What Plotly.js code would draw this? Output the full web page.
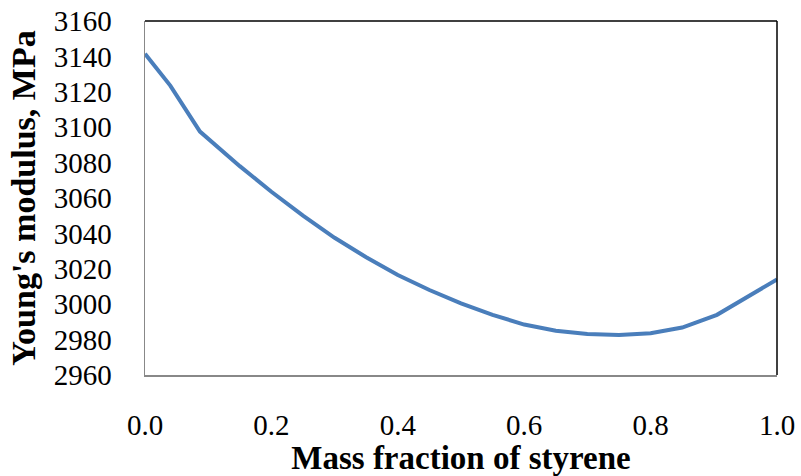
<!DOCTYPE html>
<html>
<head>
<meta charset="utf-8">
<script src="https://cdn.plot.ly/plotly-3.0.1.min.js"></script>
<style>html,body{margin:0;padding:0;background:#fff;}#chart{width:801px;height:476px;}</style>
</head>
<body>
<div id="chart"></div>
<script>
// Mass fraction of styrene (x) and Young's modulus in MPa (y)
const massFraction = [0, 0.04, 0.087, 0.15, 0.2, 0.25, 0.3, 0.35, 0.4, 0.45, 0.5, 0.55, 0.6, 0.65, 0.7, 0.75, 0.8, 0.85, 0.905, 1.0];
const youngsModulus = [3141.5, 3123.5, 3097.5, 3078, 3063.5, 3050, 3037.5, 3026.5, 3016.5, 3008, 3000.5, 2994, 2988.5, 2985, 2983.2, 2982.6, 2983.6, 2986.8, 2994, 3014];
const xTickValues = [0, 0.2, 0.4, 0.6, 0.8, 1.0];
const yTickValues = [2960, 2980, 3000, 3020, 3040, 3060, 3080, 3100, 3120, 3140, 3160];

const serif = 'Liberation Serif, Times New Roman, serif';

Plotly.newPlot('chart', [{
  x: massFraction,
  y: youngsModulus,
  type: 'scatter',
  mode: 'lines',
  line: {color: '#4A7EBB', width: 4},
  hoverinfo: 'skip'
}], {
  width: 801, height: 476,
  margin: {l: 145, r: 24, t: 21, b: 101},
  paper_bgcolor: '#fff', plot_bgcolor: '#fff',
  showlegend: false,
  font: {family: serif, color: '#000'},
  xaxis: {
    range: [0, 1], tickvals: xTickValues, tickformat: '.1f',
    showgrid: false, zeroline: false,
    showline: true, linecolor: '#888', linewidth: 1.5,
    ticks: '', ticklabelstandoff: 24,
    tickfont: {family: serif, size: 29, color: '#000'},
    title: {text: '<b>Mass fraction of styrene</b>', font: {family: serif, size: 33, color: '#000'}, standoff: 10}
  },
  yaxis: {
    range: [2960, 3160], tickvals: yTickValues,
    showgrid: false, zeroline: false,
    showline: true, linecolor: '#888', linewidth: 1.5,
    ticks: '', ticklabelstandoff: 26,
    tickfont: {family: serif, size: 29, color: '#000'},
    title: {text: "<b>Young's modulus, MPa</b>", font: {family: serif, size: 34, color: '#000'}, standoff: 8}
  },
  shapes: [
    {type: 'line', xref: 'paper', yref: 'paper', x0: 0, x1: 1, y0: 1, y1: 1, line: {color: '#000', width: 1.5}},
    {type: 'line', xref: 'paper', yref: 'paper', x0: 1, x1: 1, y0: 0, y1: 1, line: {color: '#000', width: 1.5}}
  ]
}, {staticPlot: true, displayModeBar: false});
</script>
</body>
</html>
